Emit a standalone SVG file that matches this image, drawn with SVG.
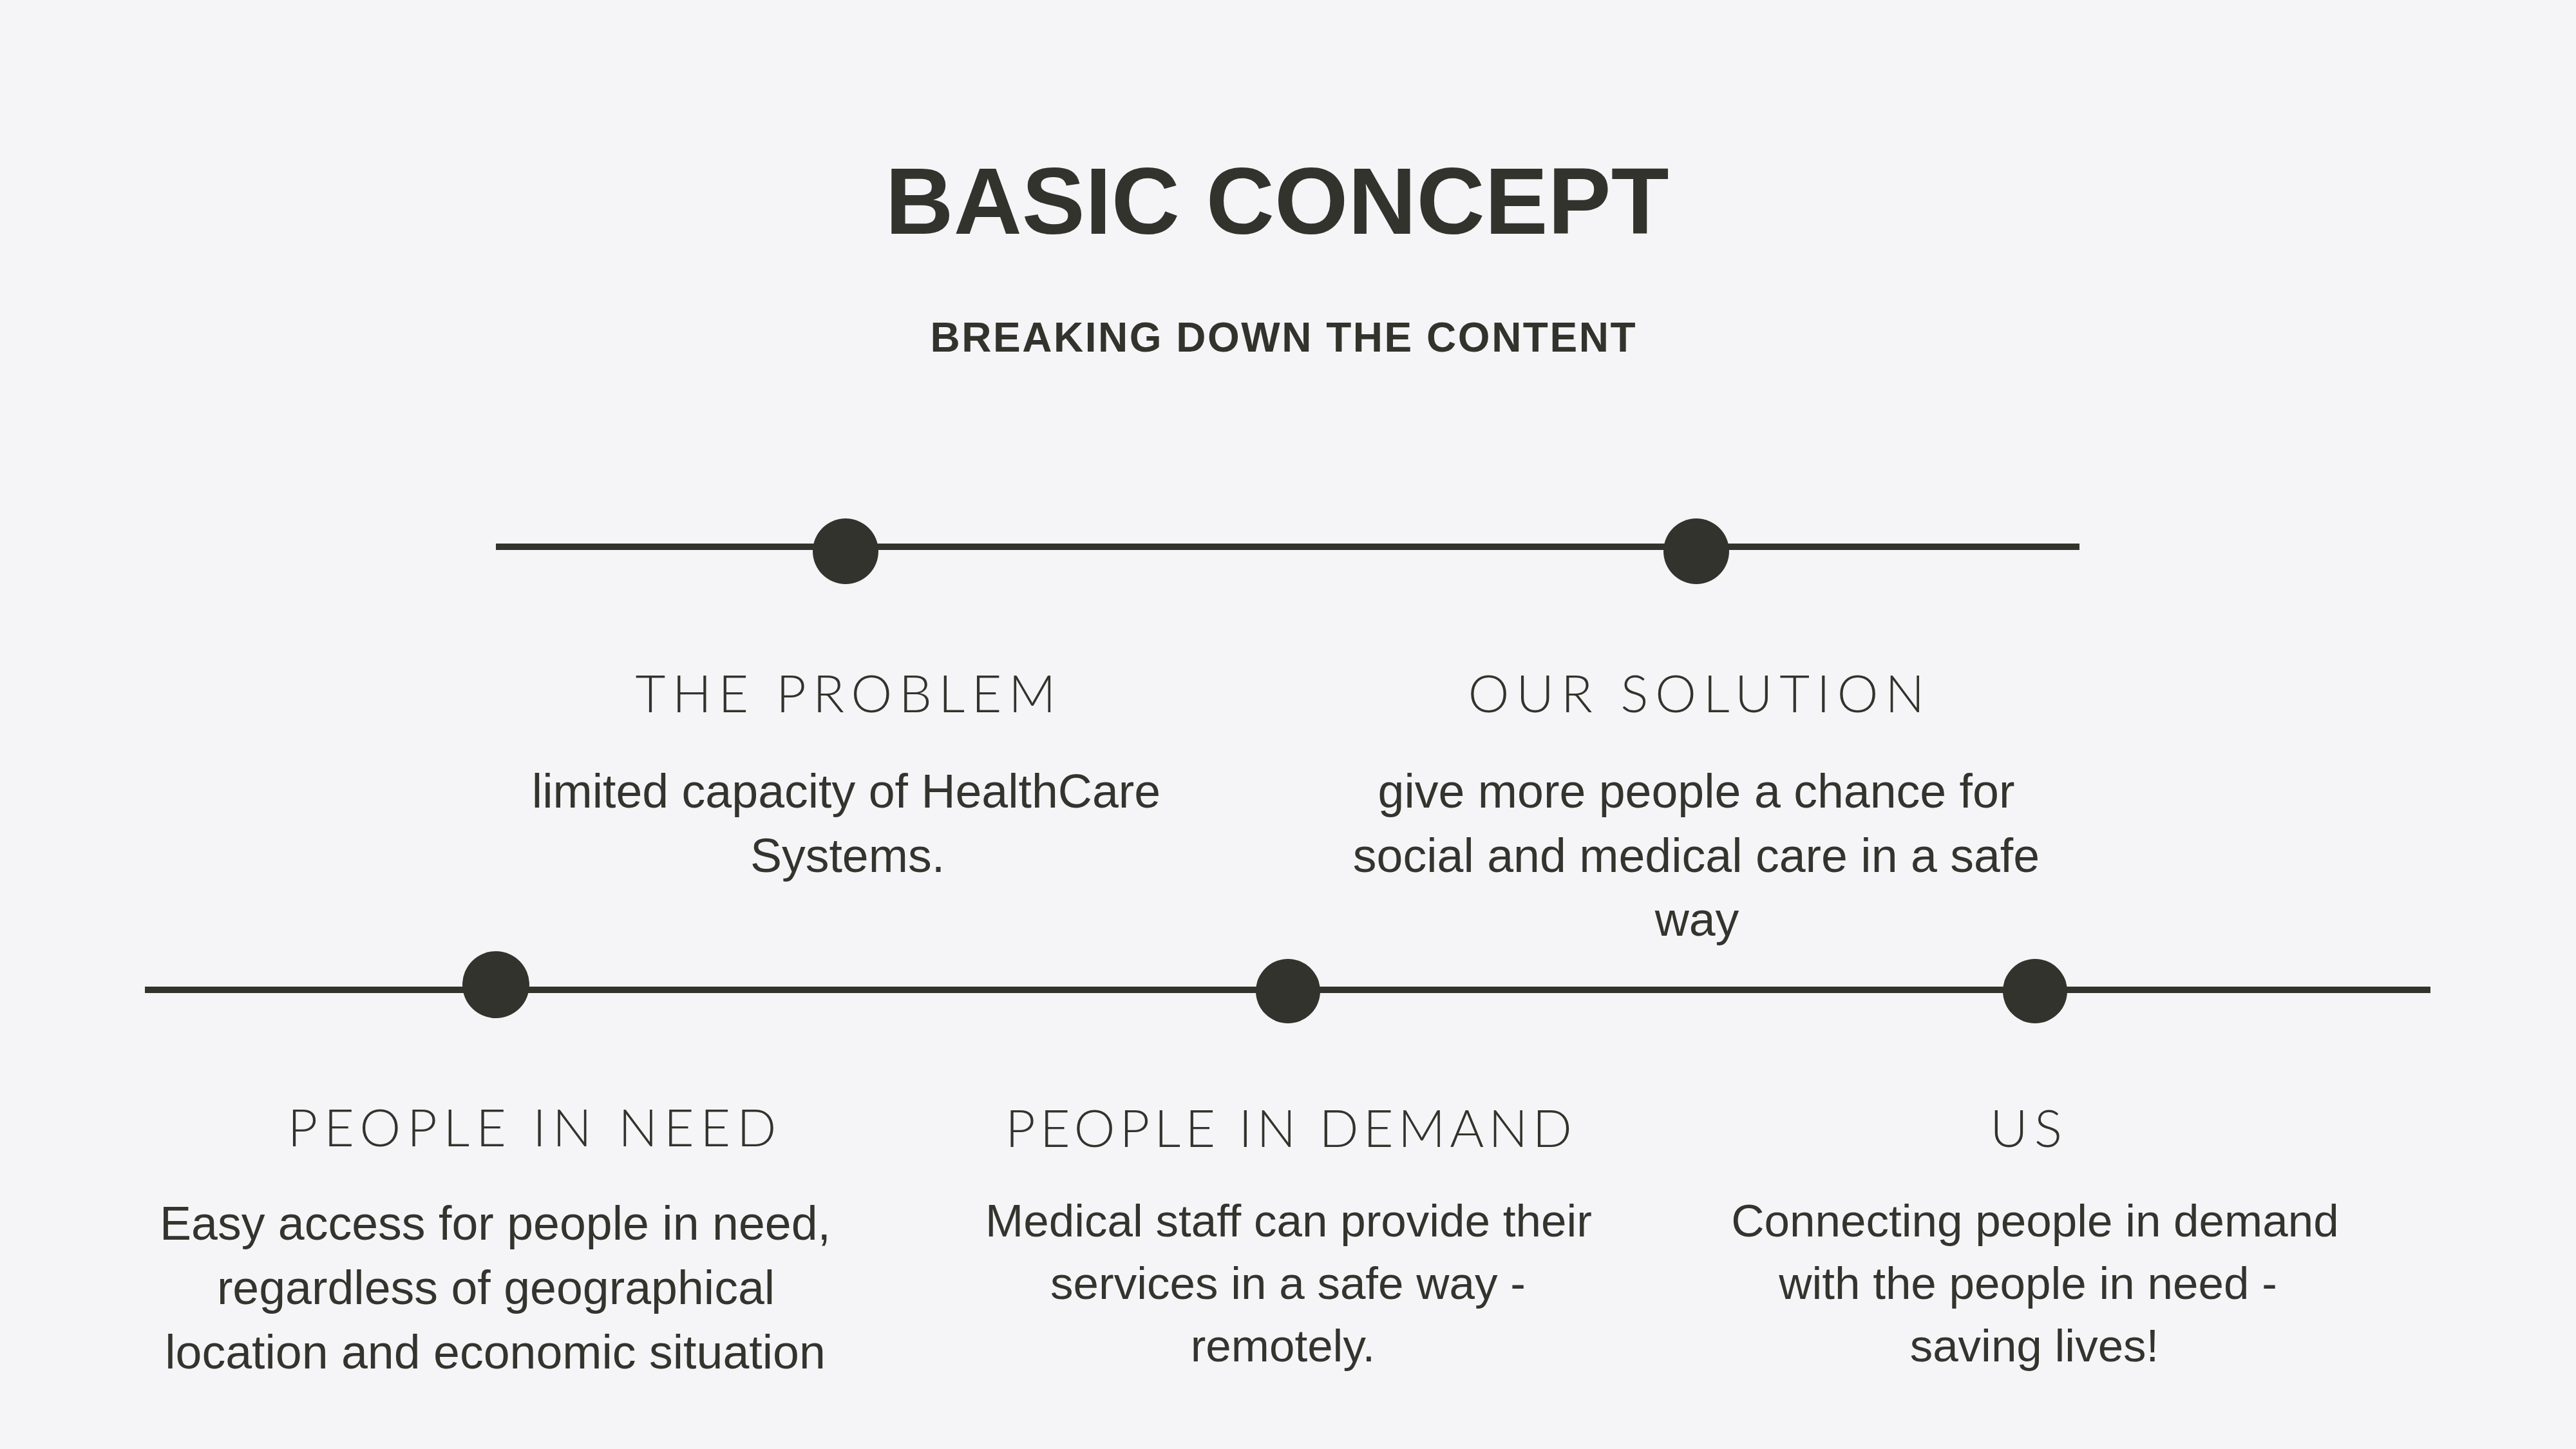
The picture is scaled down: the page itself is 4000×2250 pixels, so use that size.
<svg xmlns="http://www.w3.org/2000/svg" width="4000" height="2250" viewBox="0 0 4000 2250">
  <style>
    .bg { fill: #f5f5f7; }
    .line { stroke: #33332d; stroke-width: 10; fill: none; }
    .dot { fill: #33332d; }
    .title { font-family: "Liberation Sans", Arial, sans-serif; font-weight: 700; font-size: 147px; fill: #33332d; text-anchor: middle; }
    .subtitle { font-family: "Liberation Sans", Arial, sans-serif; font-weight: 700; font-size: 64px; fill: #33332d; text-anchor: middle; }
    .head { font-family: "Lato", "Open Sans", sans-serif; font-weight: 300; font-size: 81px; fill: #33332d; text-anchor: middle; }
    .body { font-family: "Liberation Sans", Arial, sans-serif; font-size: 73.5px; fill: #34342f; text-anchor: middle; }
    .body2 { font-family: "Liberation Sans", Arial, sans-serif; font-size: 71px; fill: #34342f; text-anchor: middle; }
  </style>
  <rect class="bg" x="0" y="0" width="4000" height="2250"/>

  <g id="header">
    <text class="title" x="1983" y="363">BASIC CONCEPT</text>
    <text class="subtitle" x="1992" y="546" textLength="1095" lengthAdjust="spacing">BREAKING DOWN THE CONTENT</text>
  </g>

  <g id="connectors">
    <line class="line" x1="770" y1="849" x2="3229" y2="849"/>
    <line class="line" x1="225" y1="1537" x2="3774" y2="1537"/>
  </g>

  <g id="node-problem">
    <circle class="dot" cx="1313" cy="856" r="51"/>
    <text class="head" x="1313" y="1106" textLength="653" lengthAdjust="spacing">THE PROBLEM</text>
    <text class="body" x="1314" y="1254">limited capacity of HealthCare</text>
    <text class="body" x="1316" y="1354">Systems.</text>
  </g>

  <g id="node-solution">
    <circle class="dot" cx="2634" cy="856" r="51"/>
    <text class="head" x="2634" y="1106" textLength="709" lengthAdjust="spacing">OUR SOLUTION</text>
    <text class="body" x="2634" y="1254">give more people a chance for</text>
    <text class="body" x="2634" y="1354">social and medical care in a safe</text>
    <text class="body" x="2635" y="1453">way</text>
  </g>

  <g id="node-need">
    <circle class="dot" cx="770" cy="1529" r="52"/>
    <text class="head" x="826" y="1780" textLength="759" lengthAdjust="spacing">PEOPLE IN NEED</text>
    <text class="body" x="769" y="1925">Easy access for people in need,</text>
    <text class="body" x="770" y="2025">regardless of geographical</text>
    <text class="body" x="769" y="2125">location and economic situation</text>
  </g>

  <g id="node-demand">
    <circle class="dot" cx="2000" cy="1539" r="50"/>
    <text class="head" x="2001" y="1781" textLength="880" lengthAdjust="spacing">PEOPLE IN DEMAND</text>
    <text class="body2" x="2001" y="1920">Medical staff can provide their</text>
    <text class="body2" x="2000" y="2017">services in a safe way -</text>
    <text class="body2" x="1992" y="2114">remotely.</text>
  </g>

  <g id="node-us">
    <circle class="dot" cx="3160" cy="1539" r="50"/>
    <text class="head" x="3146" y="1781" textLength="112" lengthAdjust="spacing">US</text>
    <text class="body2" x="3160" y="1920">Connecting people in demand</text>
    <text class="body2" x="3149" y="2017">with the people in need -</text>
    <text class="body2" x="3159" y="2114">saving lives!</text>
  </g>
</svg>
